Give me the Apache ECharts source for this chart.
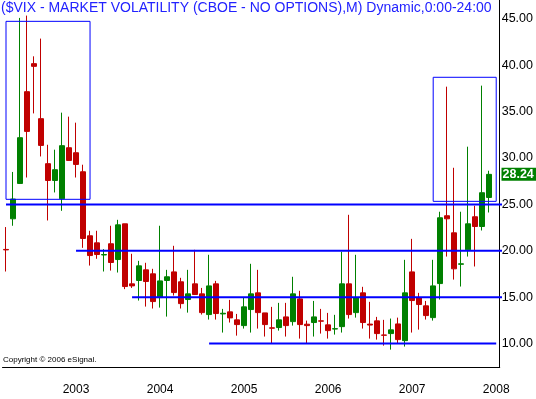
<!DOCTYPE html>
<html><head><meta charset="utf-8">
<script src="https://cdn.jsdelivr.net/npm/echarts@6/dist/echarts.min.js"></script>
<style>html,body{margin:0;padding:0;background:#fff;}#c{width:536px;height:399px;}</style>
</head><body><div id="c"></div>
<script>
// Monthly categories Mar 2002 .. Jan 2008
const months = [];
for (let y = 2002, m = 3; y < 2008 || (y === 2008 && m <= 1); ) {
  months.push(y + '-' + String(m).padStart(2, '0'));
  m++; if (m > 12) { m = 1; y++; }
}
// [open, close, low, high]
const ohlc = [
  [20.15,20.10,17.77,22.56],[23.45,25.58,22.70,28.50],[27.26,32.19,27.20,45.10],[37.15,32.87,27.90,45.35],
  [40.17,39.88,34.81,40.96],[34.24,31.36,30.17,42.87],[29.39,27.58,23.27,31.43],[27.58,28.74,26.29,30.90],
  [25.61,31.33,24.31,34.89],[31.11,29.74,29.70,34.46],[30.57,29.31,27.90,33.81],[28.52,21.33,20.32,29.28],
  [21.62,19.49,18.41,22.16],[20.86,19.60,19.14,22.16],[19.55,19.60,17.77,20.18],[20.76,18.74,17.87,22.70],
  [19.06,22.80,17.66,23.34],[22.91,16.15,15.87,22.91],[16.44,16.22,16.00,19.68],[16.80,18.38,14.64,18.92],
  [17.95,16.69,13.99,18.71],[17.52,14.53,13.78,18.06],[14.96,16.76,13.88,22.70],[16.80,17.20,12.91,17.95],
  [17.73,15.50,15.18,20.54],[16.66,14.31,13.78,17.09],[14.75,15.36,13.34,17.95],[16.44,15.29,15.29,20.11],
  [15.36,13.34,13.13,16.00],[13.13,16.22,12.59,19.57],[16.44,13.24,12.59,16.76],[13.20,13.27,11.19,13.74],
  [13.42,12.77,12.27,14.71],[12.56,12.05,10.86,13.20],[11.94,13.96,11.62,14.93],[13.67,15.36,11.19,18.60],
  [15.47,13.34,11.62,17.95],[13.31,12.05,10.76,13.31],[11.70,11.66,10.00,13.96],[11.73,12.56,11.40,14.39],
  [12.88,11.94,10.76,14.39],[12.37,15.36,11.94,17.20],[14.82,12.05,10.54,15.69],[12.09,11.94,10.00,12.48],
  [12.27,12.88,10.76,14.60],[12.45,12.42,11.08,13.74],[12.02,11.40,10.54,13.31],[11.57,11.61,10.97,13.10],
  [11.83,16.44,11.19,19.89],[16.44,13.13,12.70,23.88],[13.34,14.96,12.80,19.57],[15.47,12.27,11.62,16.12],
  [12.10,12.00,10.54,14.50],[12.45,11.08,10.43,12.88],[10.93,10.90,9.78,12.56],[11.08,11.48,9.35,12.70],
  [12.12,10.43,10.00,12.80],[10.32,15.47,9.68,19.03],[17.73,14.64,11.19,21.29],[14.93,14.21,11.51,15.47],
  [14.07,13.02,12.59,14.60],[12.80,16.22,12.48,19.03],[16.47,23.56,14.75,24.21],[23.78,23.45,19.38,37.69],
  [21.94,18.06,16.90,28.95],[18.55,18.60,16.15,24.21],[20.11,22.91,19.38,31.22],[23.67,22.62,18.31,24.85],
  [22.62,26.26,22.19,37.80],[25.75,28.24,24.13,28.63]
];
const yTicks = [10, 15, 20, 25, 30, 35, 40, 45];
// Horizontal support/resistance levels: [level, fromMonthIndex, toMonthIndex]
const levels = [[25, -0.45, 70.5], [20, 10.26, 70.5], [15, 18.25, 70.5], [10, 29.37, 70.0]];
// Highlight boxes: [fromMonthIndex, toMonthIndex, lowValue, highValue]
const boxes = [[0.47, 12.02, 25.55, 44.73], [61.35, 69.76, 25.33, 38.70]];
const lastClose = ohlc[ohlc.length - 1][1];

const chart = echarts.init(document.getElementById('c'), null, {renderer: 'canvas'});
const FONT = 'Liberation Sans, Arial, sans-serif';
const series = [{
  type: 'candlestick',
  data: ohlc,
  barWidth: 5,
  itemStyle: {color: '#008000', color0: '#c00000', borderColor: '#008000', borderColor0: '#c00000', borderWidth: 1},
  silent: true,
  z: 3
}];
levels.forEach(l => series.push({
  type: 'line', data: [[l[1], l[0]], [l[2], l[0]]], showSymbol: false, symbol: 'none', silent: true,
  lineStyle: {color: '#0000ff', width: 2}, z: 4
}));
boxes.forEach(b => series.push({
  type: 'line', data: [[b[0], b[2]], [b[1], b[2]], [b[1], b[3]], [b[0], b[3]], [b[0], b[2]]],
  showSymbol: false, symbol: 'none', silent: true, lineStyle: {color: '#0000ff', width: 1}, z: 4
}));

chart.setOption({
  animation: false,
  title: {text: '($VIX - MARKET VOLATILITY (CBOE - NO OPTIONS),M) Dynamic,0:00-24:00', left: 1, top: 1, padding: 0,
    textStyle: {fontSize: 14, fontWeight: 'normal', color: '#2222ff', fontFamily: FONT}},
  grid: {left: 2.5, right: 35.5, top: 0, bottom: 31.5},
  xAxis: {
    type: 'category', data: months, boundaryGap: true,
    axisLine: {lineStyle: {color: '#000', width: 1}},
    axisTick: {show: false},
    axisLabel: {interval: (i, v) => v.endsWith('-01'), formatter: v => v.slice(0, 4), color: '#000', fontSize: 12, fontFamily: FONT, margin: 16}
  },
  yAxis: {
    type: 'value', position: 'right', min: 7.425, max: 47.03, scale: true,
    axisLine: {show: true, lineStyle: {color: '#000', width: 1}},
    axisTick: {show: false, customValues: yTicks},
    splitLine: {show: false},
    axisLabel: {customValues: yTicks, formatter: v => v.toFixed(2), color: '#000', fontSize: 12.5, fontFamily: FONT, margin: 2}
  },
  series: series
});

const yLast = chart.convertToPixel({yAxisIndex: 0}, lastClose);
chart.setOption({
  graphic: [
    {type: 'text', left: 3, top: 356, style: {text: 'Copyright \u00a9 2006 eSignal.', font: '8px ' + FONT, fill: '#000'}},
    {type: 'rect', shape: {x: 501.5, y: yLast - 6.5, width: 35, height: 13}, style: {fill: '#008000'}, z: 10},
    {type: 'text', x: 502.5, y: yLast, style: {text: lastClose.toFixed(2), font: 'bold 12.5px ' + FONT, fill: '#fff', textVerticalAlign: 'middle'}, z: 11}
  ]
});
</script></body></html>
